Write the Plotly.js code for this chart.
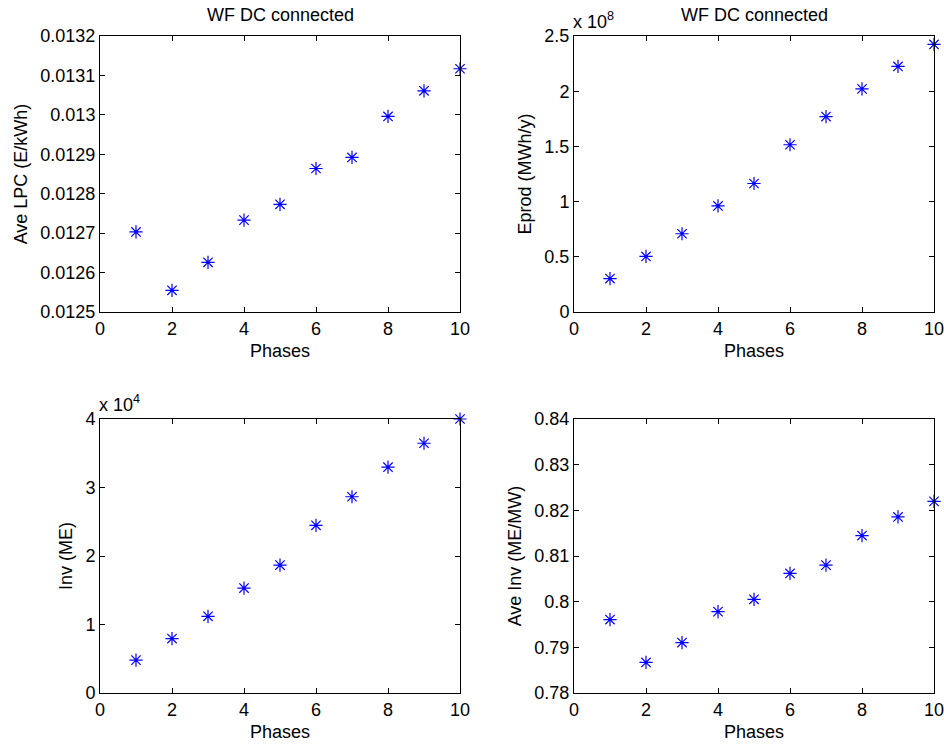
<!DOCTYPE html>
<html>
<head>
<meta charset="utf-8">
<script src="https://cdn.plot.ly/plotly-3.0.1.min.js"></script>
<style>html,body{margin:0;padding:0;background:#fff;}#chart{width:944px;height:747px;}</style>
</head>
<body>
<div id="chart"></div>
<script>
// Data
const phases = [1, 2, 3, 4, 5, 6, 7, 8, 9, 10];
const aveLpc = [0.012703, 0.012555, 0.012626, 0.012733, 0.012773, 0.012864, 0.012892, 0.012996, 0.013061, 0.013117];
const eprod = [0.303e8, 0.503e8, 0.709e8, 0.961e8, 1.164e8, 1.515e8, 1.770e8, 2.021e8, 2.224e8, 2.424e8];
const inv = [0.480e4, 0.795e4, 1.120e4, 1.532e4, 1.867e4, 2.448e4, 2.865e4, 3.297e4, 3.646e4, 4.000e4];
const aveInv = [0.79607, 0.78669, 0.79105, 0.79782, 0.80051, 0.80618, 0.80800, 0.81447, 0.81855, 0.82196];

const xTickVals = [0, 2, 4, 6, 8, 10];
const eprodTickVals = [0, 0.5e8, 1e8, 1.5e8, 2e8, 2.5e8];
const eprodTickText = ['0', '0.5', '1', '1.5', '2', '2.5'];
const invTickVals = [0, 1e4, 2e4, 3e4, 4e4];
const invTickText = ['0', '1', '2', '3', '4'];

const titleText = 'WF DC connected';
const xTitle = 'Phases';
const yTitles = ['Ave LPC (E/kWh)', 'Eprod (MWh/y)', 'Inv (ME)', 'Ave Inv (ME/MW)'];

const W = 944, H = 747;
const FONT = 'Liberation Sans, Arial, Helvetica, sans-serif';
const FS = 18;

const colL = [100 / W, 460 / W];
const colR = [574 / W, 934 / W];
const rowT = [1 - 312 / H, 1 - 36 / H];
const rowB = [1 - 693 / H, 1 - 419 / H];

function mk(x, y, xa, ya) {
  return {
    x: x, y: y, xaxis: xa, yaxis: ya, type: 'scatter', mode: 'markers',
    marker: { symbol: 'asterisk', size: 11, color: '#0000ff', line: { color: '#0000ff', width: 1.2 } },
    showlegend: false, hoverinfo: 'x+y', cliponaxis: false
  };
}

const data = [
  mk(phases, aveLpc, 'x', 'y'),
  mk(phases, eprod, 'x2', 'y2'),
  mk(phases, inv, 'x3', 'y3'),
  mk(phases, aveInv, 'x4', 'y4')
];

function xax(domain, anchor) {
  return {
    domain: domain, anchor: anchor, range: [0, 10], tickvals: xTickVals,
    ticks: 'inside', ticklen: 5, tickcolor: '#000', tickwidth: 1,
    showline: true, linecolor: '#000', linewidth: 1, mirror: 'ticks',
    showgrid: false, zeroline: false, fixedrange: true,
    ticklabeloverflow: 'allow',
    tickfont: { family: FONT, size: FS, color: '#000' },
    title: { text: xTitle, font: { family: FONT, size: FS, color: '#000' }, standoff: 6 },
    automargin: false
  };
}
function yax(domain, anchor, range, extra, title) {
  const a = {
    domain: domain, anchor: anchor, range: range,
    ticks: 'inside', ticklen: 5, tickcolor: '#000', tickwidth: 1,
    showline: true, linecolor: '#000', linewidth: 1, mirror: 'ticks',
    showgrid: false, zeroline: false, fixedrange: true,
    ticklabeloverflow: 'allow',
    tickfont: { family: FONT, size: FS, color: '#000' },
    title: { text: title, font: { family: FONT, size: FS, color: '#000' }, standoff: 8 },
    automargin: false
  };
  return Object.assign(a, extra);
}

const layout = {
  width: W, height: H,
  margin: { l: 0, r: 0, t: 0, b: 0 },
  paper_bgcolor: '#fff', plot_bgcolor: '#fff',
  font: { family: FONT, size: FS, color: '#000' },
  showlegend: false,
  xaxis: xax(colL, 'y'),
  yaxis: yax(rowT, 'x', [0.0125, 0.0132], { tick0: 0.0125, dtick: 0.0001 }, yTitles[0]),
  xaxis2: xax(colR, 'y2'),
  yaxis2: yax(rowT, 'x2', [0, 2.5e8], { tickvals: eprodTickVals, ticktext: eprodTickText }, yTitles[1]),
  xaxis3: xax(colL, 'y3'),
  yaxis3: yax(rowB, 'x3', [0, 4e4], { tickvals: invTickVals, ticktext: invTickText }, yTitles[2]),
  xaxis4: xax(colR, 'y4'),
  yaxis4: yax(rowB, 'x4', [0.78, 0.84], { tick0: 0.78, dtick: 0.01 }, yTitles[3]),
  annotations: [
    { text: titleText, xref: 'paper', yref: 'paper', x: (colL[0] + colL[1]) / 2, y: 1 - 15 / H, xanchor: 'center', yanchor: 'middle', showarrow: false, font: { family: FONT, size: FS, color: '#000' } },
    { text: titleText, xref: 'paper', yref: 'paper', x: (colR[0] + colR[1]) / 2, y: 1 - 15 / H, xanchor: 'center', yanchor: 'middle', showarrow: false, font: { family: FONT, size: FS, color: '#000' } },
    { text: 'x 10<sup>8</sup>', xref: 'paper', yref: 'paper', x: colR[0], y: rowT[1] + 2 / H, xanchor: 'left', yanchor: 'bottom', showarrow: false, font: { family: FONT, size: FS, color: '#000' }, xshift: -3 },
    { text: 'x 10<sup>4</sup>', xref: 'paper', yref: 'paper', x: colL[0], y: rowB[1] + 2 / H, xanchor: 'left', yanchor: 'bottom', showarrow: false, font: { family: FONT, size: FS, color: '#000' }, xshift: -3 }
  ]
};

Plotly.newPlot('chart', data, layout, { displayModeBar: false, staticPlot: true });
</script>
</body>
</html>
